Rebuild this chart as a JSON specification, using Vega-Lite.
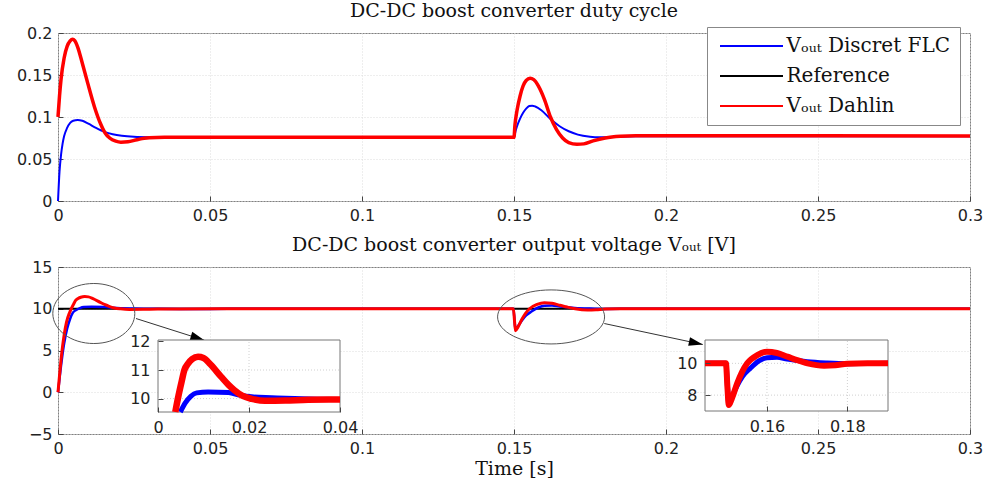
{
"$schema": "https://vega.github.io/schema/vega-lite/v6.json",
"padding": {"left": 5, "top": 1, "right": 5, "bottom": 5},
"background": "white",
"spacing": 11,
"datasets": {
"duty": [
{"s":"FLC","t":0,"v":0},{"s":"FLC","t":0.0005,"v":0.035},{"s":"FLC","t":0.001,"v":0.055},{"s":"FLC","t":0.0015,"v":0.068},{"s":"FLC","t":0.002,"v":0.077},{"s":"FLC","t":0.003,"v":0.087},{"s":"FLC","t":0.004,"v":0.093},{"s":"FLC","t":0.005,"v":0.0955},{"s":"FLC","t":0.0065,"v":0.0965},{"s":"FLC","t":0.008,"v":0.0955},{"s":"FLC","t":0.01,"v":0.092},{"s":"FLC","t":0.0125,"v":0.087},{"s":"FLC","t":0.0155,"v":0.082},{"s":"FLC","t":0.018,"v":0.0795},{"s":"FLC","t":0.021,"v":0.0777},{"s":"FLC","t":0.025,"v":0.0765},{"s":"FLC","t":0.03,"v":0.076},{"s":"FLC","t":0.04,"v":0.0758},{"s":"FLC","t":0.1,"v":0.0758},{"s":"FLC","t":0.15,"v":0.0758},{"s":"FLC","t":0.1505,"v":0.083},{"s":"FLC","t":0.151,"v":0.089},{"s":"FLC","t":0.152,"v":0.098},{"s":"FLC","t":0.153,"v":0.105},{"s":"FLC","t":0.154,"v":0.11},{"s":"FLC","t":0.155,"v":0.113},{"s":"FLC","t":0.156,"v":0.1135},{"s":"FLC","t":0.157,"v":0.1125},{"s":"FLC","t":0.159,"v":0.108},{"s":"FLC","t":0.162,"v":0.0975},{"s":"FLC","t":0.165,"v":0.089},{"s":"FLC","t":0.168,"v":0.083},{"s":"FLC","t":0.171,"v":0.079},{"s":"FLC","t":0.175,"v":0.0765},{"s":"FLC","t":0.178,"v":0.0758},{"s":"FLC","t":0.185,"v":0.0765},{"s":"FLC","t":0.19,"v":0.077},{"s":"FLC","t":0.2,"v":0.0772},{"s":"FLC","t":0.3,"v":0.0772},
{"s":"Dahlin","t":0,"v":0.1},{"s":"Dahlin","t":0.0005,"v":0.125},{"s":"Dahlin","t":0.001,"v":0.145},{"s":"Dahlin","t":0.002,"v":0.17},{"s":"Dahlin","t":0.003,"v":0.184},{"s":"Dahlin","t":0.004,"v":0.1905},{"s":"Dahlin","t":0.0048,"v":0.1925},{"s":"Dahlin","t":0.0055,"v":0.191},{"s":"Dahlin","t":0.0065,"v":0.183},{"s":"Dahlin","t":0.008,"v":0.164},{"s":"Dahlin","t":0.0098,"v":0.14},{"s":"Dahlin","t":0.012,"v":0.112},{"s":"Dahlin","t":0.014,"v":0.092},{"s":"Dahlin","t":0.0155,"v":0.081},{"s":"Dahlin","t":0.017,"v":0.075},{"s":"Dahlin","t":0.019,"v":0.0712},{"s":"Dahlin","t":0.0207,"v":0.07},{"s":"Dahlin","t":0.023,"v":0.0705},{"s":"Dahlin","t":0.026,"v":0.073},{"s":"Dahlin","t":0.03,"v":0.0752},{"s":"Dahlin","t":0.035,"v":0.0758},{"s":"Dahlin","t":0.1,"v":0.0758},{"s":"Dahlin","t":0.15,"v":0.0758},{"s":"Dahlin","t":0.1503,"v":0.09},{"s":"Dahlin","t":0.151,"v":0.108},{"s":"Dahlin","t":0.152,"v":0.125},{"s":"Dahlin","t":0.153,"v":0.137},{"s":"Dahlin","t":0.154,"v":0.1435},{"s":"Dahlin","t":0.1553,"v":0.146},{"s":"Dahlin","t":0.1565,"v":0.1445},{"s":"Dahlin","t":0.158,"v":0.137},{"s":"Dahlin","t":0.16,"v":0.121},{"s":"Dahlin","t":0.162,"v":0.1},{"s":"Dahlin","t":0.164,"v":0.085},{"s":"Dahlin","t":0.166,"v":0.075},{"s":"Dahlin","t":0.168,"v":0.0695},{"s":"Dahlin","t":0.1707,"v":0.0675},{"s":"Dahlin","t":0.173,"v":0.068},{"s":"Dahlin","t":0.176,"v":0.0715},{"s":"Dahlin","t":0.18,"v":0.075},{"s":"Dahlin","t":0.185,"v":0.077},{"s":"Dahlin","t":0.19,"v":0.0776},{"s":"Dahlin","t":0.2,"v":0.0776},{"s":"Dahlin","t":0.3,"v":0.0774}
],
"vout": [
{"s":"Reference","t":0,"v":10},{"s":"Reference","t":0.3,"v":10},
{"s":"FLC","t":0,"v":0},{"s":"FLC","t":0.0005,"v":1.6},{"s":"FLC","t":0.001,"v":3.2},{"s":"FLC","t":0.0015,"v":4.6},{"s":"FLC","t":0.002,"v":5.8},{"s":"FLC","t":0.003,"v":7.6},{"s":"FLC","t":0.004,"v":8.8},{"s":"FLC","t":0.0049,"v":9.53},{"s":"FLC","t":0.006,"v":9.85},{"s":"FLC","t":0.0072,"v":10.08},{"s":"FLC","t":0.0085,"v":10.2},{"s":"FLC","t":0.011,"v":10.23},{"s":"FLC","t":0.0155,"v":10.21},{"s":"FLC","t":0.018,"v":10.12},{"s":"FLC","t":0.0206,"v":10.06},{"s":"FLC","t":0.025,"v":10.03},{"s":"FLC","t":0.03,"v":10},{"s":"FLC","t":0.04,"v":9.97},{"s":"FLC","t":0.06,"v":10},{"s":"FLC","t":0.1498,"v":10},{"s":"FLC","t":0.1502,"v":8.5},{"s":"FLC","t":0.1505,"v":7.5},{"s":"FLC","t":0.1513,"v":7.9},{"s":"FLC","t":0.1526,"v":8.6},{"s":"FLC","t":0.154,"v":9.2},{"s":"FLC","t":0.1559,"v":9.7},{"s":"FLC","t":0.158,"v":10.15},{"s":"FLC","t":0.16,"v":10.36},{"s":"FLC","t":0.1625,"v":10.38},{"s":"FLC","t":0.165,"v":10.27},{"s":"FLC","t":0.17,"v":10.1},{"s":"FLC","t":0.175,"v":10.02},{"s":"FLC","t":0.18,"v":9.98},{"s":"FLC","t":0.19,"v":10},{"s":"FLC","t":0.3,"v":10},
{"s":"Dahlin","t":0,"v":0},{"s":"Dahlin","t":0.0005,"v":2},{"s":"Dahlin","t":0.001,"v":3.9},{"s":"Dahlin","t":0.0015,"v":5.5},{"s":"Dahlin","t":0.002,"v":6.8},{"s":"Dahlin","t":0.0028,"v":8.4},{"s":"Dahlin","t":0.0038,"v":9.53},{"s":"Dahlin","t":0.0045,"v":10.1},{"s":"Dahlin","t":0.0052,"v":10.6},{"s":"Dahlin","t":0.0058,"v":11},{"s":"Dahlin","t":0.0066,"v":11.22},{"s":"Dahlin","t":0.0075,"v":11.38},{"s":"Dahlin","t":0.0088,"v":11.46},{"s":"Dahlin","t":0.01,"v":11.42},{"s":"Dahlin","t":0.0115,"v":11.2},{"s":"Dahlin","t":0.0139,"v":10.76},{"s":"Dahlin","t":0.0155,"v":10.48},{"s":"Dahlin","t":0.0168,"v":10.29},{"s":"Dahlin","t":0.0185,"v":10.1},{"s":"Dahlin","t":0.0206,"v":9.99},{"s":"Dahlin","t":0.0235,"v":9.92},{"s":"Dahlin","t":0.028,"v":9.93},{"s":"Dahlin","t":0.033,"v":9.96},{"s":"Dahlin","t":0.04,"v":9.97},{"s":"Dahlin","t":0.06,"v":10},{"s":"Dahlin","t":0.1498,"v":10},{"s":"Dahlin","t":0.1502,"v":8.4},{"s":"Dahlin","t":0.1505,"v":7.37},{"s":"Dahlin","t":0.1513,"v":7.8},{"s":"Dahlin","t":0.1526,"v":8.74},{"s":"Dahlin","t":0.1538,"v":9.45},{"s":"Dahlin","t":0.1551,"v":10},{"s":"Dahlin","t":0.1576,"v":10.52},{"s":"Dahlin","t":0.16,"v":10.73},{"s":"Dahlin","t":0.1625,"v":10.65},{"s":"Dahlin","t":0.1651,"v":10.42},{"s":"Dahlin","t":0.1675,"v":10.2},{"s":"Dahlin","t":0.1701,"v":10},{"s":"Dahlin","t":0.1742,"v":9.85},{"s":"Dahlin","t":0.177,"v":9.88},{"s":"Dahlin","t":0.18,"v":9.97},{"s":"Dahlin","t":0.185,"v":10},{"s":"Dahlin","t":0.3,"v":10}
],
"ins1": [
{"s":"FLC","t":0.0049,"v":9.53},{"s":"FLC","t":0.006,"v":9.85},{"s":"FLC","t":0.0072,"v":10.08},{"s":"FLC","t":0.0085,"v":10.2},{"s":"FLC","t":0.011,"v":10.23},{"s":"FLC","t":0.0155,"v":10.21},{"s":"FLC","t":0.018,"v":10.12},{"s":"FLC","t":0.0206,"v":10.06},{"s":"FLC","t":0.025,"v":10.03},{"s":"FLC","t":0.03,"v":10},{"s":"FLC","t":0.035,"v":9.98},{"s":"FLC","t":0.04,"v":9.97},
{"s":"Dahlin","t":0.0038,"v":9.53},{"s":"Dahlin","t":0.0045,"v":10.1},{"s":"Dahlin","t":0.0052,"v":10.6},{"s":"Dahlin","t":0.0058,"v":11},{"s":"Dahlin","t":0.0066,"v":11.22},{"s":"Dahlin","t":0.0075,"v":11.38},{"s":"Dahlin","t":0.0088,"v":11.46},{"s":"Dahlin","t":0.01,"v":11.42},{"s":"Dahlin","t":0.0115,"v":11.2},{"s":"Dahlin","t":0.0139,"v":10.76},{"s":"Dahlin","t":0.0155,"v":10.48},{"s":"Dahlin","t":0.0168,"v":10.29},{"s":"Dahlin","t":0.0185,"v":10.1},{"s":"Dahlin","t":0.0206,"v":9.99},{"s":"Dahlin","t":0.0235,"v":9.92},{"s":"Dahlin","t":0.028,"v":9.93},{"s":"Dahlin","t":0.033,"v":9.96},{"s":"Dahlin","t":0.04,"v":9.97}
],
"ins2": [
{"s":"FLC","t":0.1446,"v":10},{"s":"FLC","t":0.1498,"v":10},{"s":"FLC","t":0.1502,"v":8.5},{"s":"FLC","t":0.1505,"v":7.5},{"s":"FLC","t":0.1513,"v":7.9},{"s":"FLC","t":0.1526,"v":8.6},{"s":"FLC","t":0.154,"v":9.2},{"s":"FLC","t":0.1559,"v":9.7},{"s":"FLC","t":0.158,"v":10.15},{"s":"FLC","t":0.16,"v":10.36},{"s":"FLC","t":0.1625,"v":10.38},{"s":"FLC","t":0.165,"v":10.27},{"s":"FLC","t":0.17,"v":10.1},{"s":"FLC","t":0.175,"v":10.02},{"s":"FLC","t":0.18,"v":9.98},{"s":"FLC","t":0.185,"v":9.99},{"s":"FLC","t":0.1901,"v":10},
{"s":"Dahlin","t":0.1446,"v":10},{"s":"Dahlin","t":0.1498,"v":10},{"s":"Dahlin","t":0.1502,"v":8.4},{"s":"Dahlin","t":0.1505,"v":7.37},{"s":"Dahlin","t":0.1513,"v":7.8},{"s":"Dahlin","t":0.1526,"v":8.74},{"s":"Dahlin","t":0.1538,"v":9.45},{"s":"Dahlin","t":0.1551,"v":10},{"s":"Dahlin","t":0.1576,"v":10.52},{"s":"Dahlin","t":0.16,"v":10.73},{"s":"Dahlin","t":0.1625,"v":10.65},{"s":"Dahlin","t":0.1651,"v":10.42},{"s":"Dahlin","t":0.1675,"v":10.2},{"s":"Dahlin","t":0.1701,"v":10},{"s":"Dahlin","t":0.1742,"v":9.85},{"s":"Dahlin","t":0.177,"v":9.88},{"s":"Dahlin","t":0.18,"v":9.97},{"s":"Dahlin","t":0.185,"v":10},{"s":"Dahlin","t":0.1901,"v":10}
],
"frame1": [{"t0":0,"t1":0.04,"v0":9.53,"v1":12.05}],
"frame2": [{"t0":0.1446,"t1":0.1901,"v0":7.0,"v1":11.47}],
"grid1x": [{"g":0.02}],
"grid1y": [{"g":11},{"g":10}],
"grid2x": [{"g":0.16},{"g":0.18}],
"grid2y": [{"g":8},{"g":10}],
"notes": [
{"k":"e1","t":0.01178,"v":9.43},{"k":"e2","t":0.1622,"v":9.02},
{"k":"a1","t":0.02566,"v":8.83,"t2":0.04813,"v2":6.23},{"k":"a2","t":0.1797,"v":8.23,"t2":0.2121,"v2":5.72}
]
},
"vconcat": [
{
"width": 912, "height": 168,
"title": {"text": "DC-DC boost converter duty cycle"},
"data": {"name": "duty"},
"encoding": {
"x": {"field":"t","type":"quantitative","scale":{"domain":[0,0.3],"nice":false,"zero":false},"axis":{"values":[0,0.05,0.1,0.15,0.2,0.25,0.3],"format":"~g","title":null}},
"y": {"field":"v","type":"quantitative","scale":{"domain":[0,0.2],"nice":false},"axis":{"values":[0,0.05,0.1,0.15,0.2],"format":"~g","title":null}},
"color": {"field":"s","type":"nominal","scale":{"domain":["FLC","Reference","Dahlin"],"range":["#0000ff","#000000","#ff0000"]},"legend":{"title":null,"orient":"none","legendX":649,"legendY":-6,"labelLimit":400,"labelExpr":"datum.label == 'FLC' ? 'Vₒᵤₜ Discret FLC' : (datum.label == 'Dahlin' ? 'Vₒᵤₜ Dahlin' : 'Reference')"}}
},
"layer": [
{"transform":[{"filter":"datum.s == 'FLC'"}],"mark":{"type":"line","strokeWidth":2,"interpolate":"monotone"}},
{"transform":[{"filter":"datum.s == 'Dahlin'"}],"mark":{"type":"line","strokeWidth":3.5,"interpolate":"monotone"}}
]
},
{
"width": 912, "height": 167,
"title": {"text": "DC-DC boost converter output voltage Vₒᵤₜ [V]"},
"resolve": {"scale": {"x":"independent","y":"independent"}},
"layer": [
{
"layer": [
{"data":{"name":"vout"},"transform":[{"filter":"datum.s == 'Reference'"}],"mark":{"type":"line","strokeWidth":2},
"encoding":{
"x":{"field":"t","type":"quantitative","scale":{"domain":[0,0.3],"nice":false,"zero":false},"axis":{"orient":"bottom","values":[0,0.05,0.1,0.15,0.2,0.25,0.3],"format":"~g","title":"Time [s]"}},
"y":{"field":"v","type":"quantitative","scale":{"domain":[-5,15],"nice":false},"axis":{"orient":"left","values":[-5,0,5,10,15],"format":"~g","title":null}},
"color":{"field":"s","type":"nominal","scale":{"domain":["FLC","Reference","Dahlin"],"range":["#0000ff","#000000","#ff0000"]}}}},
{"data":{"name":"vout"},"transform":[{"filter":"datum.s == 'FLC'"}],"mark":{"type":"line","strokeWidth":2.5,"interpolate":"monotone"},
"encoding":{"x":{"field":"t","type":"quantitative","scale":{"domain":[0,0.3]}},"y":{"field":"v","type":"quantitative","scale":{"domain":[-5,15]}},"color":{"field":"s","type":"nominal"}}},
{"data":{"name":"vout"},"transform":[{"filter":"datum.s == 'Dahlin'"}],"mark":{"type":"line","strokeWidth":3,"interpolate":"monotone"},
"encoding":{"x":{"field":"t","type":"quantitative","scale":{"domain":[0,0.3]}},"y":{"field":"v","type":"quantitative","scale":{"domain":[-5,15]}},"color":{"field":"s","type":"nominal"}}},
{"data":{"name":"notes"},"transform":[{"filter":"datum.k == 'e1'"}],"mark":{"type":"point","shape":"M-1,0A1,0.732,0,1,0,1,0A1,0.732,0,1,0,-1,0Z","size":6724,"filled":false,"color":"#555","strokeWidth":1,"opacity":1},
"encoding":{"x":{"field":"t","type":"quantitative","scale":{"domain":[0,0.3]}},"y":{"field":"v","type":"quantitative","scale":{"domain":[-5,15]}}}},
{"data":{"name":"notes"},"transform":[{"filter":"datum.k == 'e2'"}],"mark":{"type":"point","shape":"M-1,0A1,0.505,0,1,0,1,0A1,0.505,0,1,0,-1,0Z","size":11449,"filled":false,"color":"#555","strokeWidth":1,"opacity":1},
"encoding":{"x":{"field":"t","type":"quantitative","scale":{"domain":[0,0.3]}},"y":{"field":"v","type":"quantitative","scale":{"domain":[-5,15]}}}},
{"data":{"name":"notes"},"transform":[{"filter":"datum.k == 'a1' || datum.k == 'a2'"}],"mark":{"type":"rule","color":"#333","strokeWidth":1},
"encoding":{"x":{"field":"t","type":"quantitative","scale":{"domain":[0,0.3]}},"y":{"field":"v","type":"quantitative","scale":{"domain":[-5,15]}},"x2":{"field":"t2"},"y2":{"field":"v2"}}},
{"data":{"name":"notes"},"transform":[{"filter":"datum.k == 'a1'"}],"mark":{"type":"point","shape":"M0,0L-2,-0.62L-2,0.62Z","size":196,"filled":true,"color":"#000","opacity":1,"angle":17.6},
"encoding":{"x":{"field":"t2","type":"quantitative","scale":{"domain":[0,0.3]}},"y":{"field":"v2","type":"quantitative","scale":{"domain":[-5,15]}}}},
{"data":{"name":"notes"},"transform":[{"filter":"datum.k == 'a2'"}],"mark":{"type":"point","shape":"M0,0L-2,-0.62L-2,0.62Z","size":196,"filled":true,"color":"#000","opacity":1,"angle":12.4},
"encoding":{"x":{"field":"t2","type":"quantitative","scale":{"domain":[0,0.3]}},"y":{"field":"v2","type":"quantitative","scale":{"domain":[-5,15]}}}}
]
},
{
"layer": [
{"data":{"name":"frame1"},"mark":{"type":"rect","fill":"white","stroke":"#777","strokeWidth":1},
"encoding":{
"x":{"field":"t0","type":"quantitative","scale":{"domain":[0,0.04],"range":[100,282],"nice":false,"zero":false},"axis":{"orient":"bottom","offset":-22,"values":[0,0.02,0.04],"format":"~g","title":null,"zindex":1,"grid":false,"labelPadding":12}},
"x2":{"field":"t1"},
"y":{"field":"v0","type":"quantitative","scale":{"domain":[9.53,12.05],"range":[145,73],"nice":false,"zero":false},"axis":{"orient":"left","offset":-100,"values":[10,11,12],"format":"~g","title":null,"zindex":1,"grid":false,"labelPadding":13,"minExtent":0,"maxExtent":200}},
"y2":{"field":"v1"}}},
{"data":{"name":"grid1x"},"mark":{"type":"rule","color":"#d0d0d0","strokeDash":[1,2],"strokeWidth":1},
"encoding":{"x":{"field":"g","type":"quantitative","scale":{"domain":[0,0.04]}},"y":{"datum":9.53,"type":"quantitative","scale":{"domain":[9.53,12.05]}},"y2":{"datum":12.05}}},
{"data":{"name":"grid1y"},"mark":{"type":"rule","color":"#d0d0d0","strokeDash":[1,2],"strokeWidth":1},
"encoding":{"y":{"field":"g","type":"quantitative","scale":{"domain":[9.53,12.05]}},"x":{"datum":0,"type":"quantitative","scale":{"domain":[0,0.04]}},"x2":{"datum":0.04}}},
{"data":{"name":"ins1"},"transform":[{"filter":"datum.s == 'FLC'"}],"mark":{"type":"line","stroke":"#0000ff","strokeWidth":5,"interpolate":"monotone"},
"encoding":{"x":{"field":"t","type":"quantitative","scale":{"domain":[0,0.04]}},"y":{"field":"v","type":"quantitative","scale":{"domain":[9.53,12.05]}}}},
{"data":{"name":"ins1"},"transform":[{"filter":"datum.s == 'Dahlin'"}],"mark":{"type":"line","stroke":"#ff0000","strokeWidth":6.5,"interpolate":"monotone"},
"encoding":{"x":{"field":"t","type":"quantitative","scale":{"domain":[0,0.04]}},"y":{"field":"v","type":"quantitative","scale":{"domain":[9.53,12.05]}}}}
]
},
{
"layer": [
{"data":{"name":"frame2"},"mark":{"type":"rect","fill":"white","stroke":"#777","strokeWidth":1},
"encoding":{
"x":{"field":"t0","type":"quantitative","scale":{"domain":[0.1446,0.1901],"range":[647,830],"nice":false,"zero":false},"axis":{"orient":"bottom","offset":-23,"values":[0.16,0.18],"format":"~g","title":null,"zindex":1,"grid":false,"labelPadding":12}},
"x2":{"field":"t1"},
"y":{"field":"v0","type":"quantitative","scale":{"domain":[7.0,11.47],"range":[144,73],"nice":false,"zero":false},"axis":{"orient":"left","offset":-647,"values":[8,10],"format":"~g","title":null,"zindex":1,"grid":false,"labelPadding":13,"minExtent":0,"maxExtent":200}},
"y2":{"field":"v1"}}},
{"data":{"name":"grid2x"},"mark":{"type":"rule","color":"#d0d0d0","strokeDash":[1,2],"strokeWidth":1},
"encoding":{"x":{"field":"g","type":"quantitative","scale":{"domain":[0.1446,0.1901]}},"y":{"datum":7.0,"type":"quantitative","scale":{"domain":[7.0,11.47]}},"y2":{"datum":11.47}}},
{"data":{"name":"grid2y"},"mark":{"type":"rule","color":"#d0d0d0","strokeDash":[1,2],"strokeWidth":1},
"encoding":{"y":{"field":"g","type":"quantitative","scale":{"domain":[7.0,11.47]}},"x":{"datum":0.1446,"type":"quantitative","scale":{"domain":[0.1446,0.1901]}},"x2":{"datum":0.1901}}},
{"data":{"name":"ins2"},"transform":[{"filter":"datum.s == 'FLC'"}],"mark":{"type":"line","stroke":"#0000ff","strokeWidth":5,"interpolate":"monotone"},
"encoding":{"x":{"field":"t","type":"quantitative","scale":{"domain":[0.1446,0.1901]}},"y":{"field":"v","type":"quantitative","scale":{"domain":[7.0,11.47]}}}},
{"data":{"name":"ins2"},"transform":[{"filter":"datum.s == 'Dahlin'"}],"mark":{"type":"line","stroke":"#ff0000","strokeWidth":6,"interpolate":"monotone"},
"encoding":{"x":{"field":"t","type":"quantitative","scale":{"domain":[0.1446,0.1901]}},"y":{"field":"v","type":"quantitative","scale":{"domain":[7.0,11.47]}}}}
]
}
]
}
],
"config": {
"view": {"stroke":"#808080","strokeWidth":1},
"axis": {"labelFont":"DejaVu Sans","labelFontSize":16,"labelColor":"#222","domain":false,"ticks":true,"tickSize":-5,"tickColor":"#444","tickWidth":1,"grid":true,"gridColor":"#dcdcdc","gridDash":[1,2],"labelPadding":11,"labelFlush":false,"titleFont":"DejaVu Serif","titleFontSize":19,"titleFontWeight":"normal","titleColor":"#111","titlePadding":3},
"axisY": {"minExtent":52,"maxExtent":52},
"title": {"font":"DejaVu Serif","fontSize":19,"fontWeight":"normal","color":"#111","offset":0},
"legend": {"fillColor":"white","strokeColor":"#888","padding":9,"labelFont":"DejaVu Serif","labelFontSize":20,"labelColor":"#111","symbolType":"M-6.3,0H6.3","symbolSize":100,"symbolStrokeWidth":2,"symbolOffset":25.5,"labelOffset":25,"rowPadding":10}
}
}
